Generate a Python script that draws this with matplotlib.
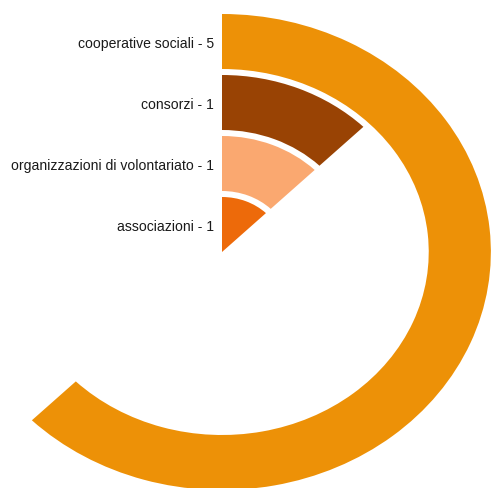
import numpy as np
import matplotlib
matplotlib.use('Agg')
import matplotlib.pyplot as plt
from matplotlib.transforms import offset_copy

# ── Data (inner ring first) ──────────────────────────────────────────────────
categories = ['associazioni', 'organizzazioni di volontariato', 'consorzi',
              'cooperative sociali']
counts = [1, 1, 1, 5]
colors = ['#ED6A0A', '#FAA870', '#994304', '#ED9107']

FULL_TURN = 8          # value that would close the ring
RING_STEP = 61         # radial spacing between rings
RING_WIDTH = 55        # radial thickness of a ring
R_MAX = 239

plt.rcParams['font.family'] = ['Liberation Sans', 'DejaVu Sans']

fig = plt.figure(figsize=(4.92, 4.88), dpi=100)
W, H = 492, 488
cx, cy = 222, 252          # centre of the rings, px from top-left
rx, ry = 270, 239          # horizontal / vertical outer radius, px
ax = fig.add_axes([(cx - rx) / W, (H - cy - ry) / H, 2 * rx / W, 2 * ry / H],
                  projection='polar')
ax.set_aspect('auto')
ax.set_theta_zero_location('N')
ax.set_theta_direction(-1)
ax.set_rlim(0, R_MAX)
ax.axis('off')

theta = np.array(counts) / FULL_TURN * 2 * np.pi
inner = np.arange(len(counts)) * RING_STEP
ax.barh(inner, theta, left=0, height=RING_WIDTH, align='edge',
        color=colors, edgecolor='none')

label_tr = offset_copy(ax.transData, fig=fig, x=-8, y=-2, units='dots')
for cat, n, r0 in zip(categories, counts, inner):
    ax.text(0, r0 + RING_WIDTH / 2, f'{cat} - {n}', transform=label_tr,
            ha='right', va='center', fontsize=10.1, color='#1a1a1a')

fig.savefig('out.png', dpi=100)
